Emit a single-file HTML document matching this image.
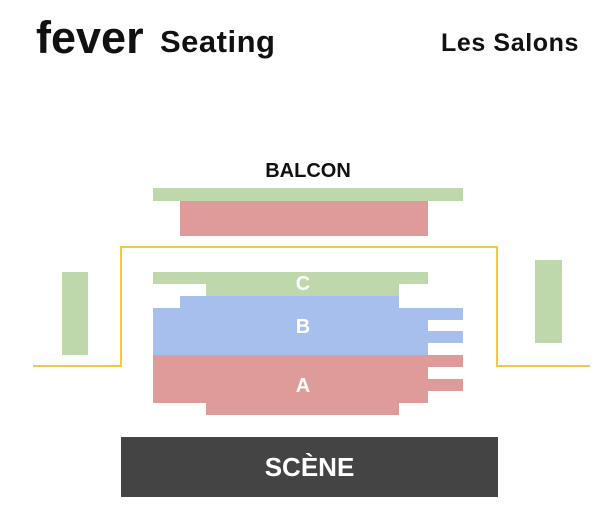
<!DOCTYPE html>
<html><head><style>
body{margin:0;width:614px;height:526px;background:#fff;position:relative;overflow:hidden;font-family:"Liberation Sans",sans-serif}
.r{position:absolute}
.g{background:#bfd8ab}.rd{background:#df9b99}.b{background:#a7bfec}
.t{position:absolute;font-weight:bold;text-align:center}
</style></head><body>
<div class="r" style="left:36px;top:12px;font-size:45px;font-weight:bold;letter-spacing:0px;color:#111">fever</div>
<div class="r" style="left:160px;top:24px;font-size:31px;font-weight:bold;color:#111;letter-spacing:0.5px">Seating</div>
<div class="r" style="left:441px;top:29px;font-size:25px;font-weight:bold;color:#111;letter-spacing:0.6px;white-space:nowrap">Les Salons</div>

<div class="t" style="left:200px;width:216px;top:160px;font-size:20px;color:#111">BALCON</div>
<div class="r g" style="left:153px;top:188px;width:310px;height:13px"></div>
<div class="r rd" style="left:180px;top:201px;width:248px;height:35px"></div>

<svg class="r" style="left:0;top:0" width="614" height="526"><polyline points="33,366 121,366 121,247 497,247 497,366 590,366" fill="none" stroke="#f5c842" stroke-width="2"/></svg>

<div class="r g" style="left:62px;top:272px;width:26px;height:83px"></div>
<div class="r g" style="left:535px;top:260px;width:27px;height:83px"></div>

<div class="r g" style="left:153px;top:272px;width:275px;height:12px"></div>
<div class="r g" style="left:206px;top:284px;width:193px;height:12px"></div>
<div class="r b" style="left:180px;top:296px;width:219px;height:12px"></div>
<div class="r b" style="left:153px;top:308px;width:275px;height:47px"></div>
<div class="r b" style="left:428px;top:308px;width:35px;height:12px"></div>
<div class="r b" style="left:428px;top:331px;width:35px;height:12px"></div>
<div class="r rd" style="left:153px;top:355px;width:275px;height:48px"></div>
<div class="r rd" style="left:428px;top:355px;width:35px;height:12px"></div>
<div class="r rd" style="left:428px;top:379px;width:35px;height:12px"></div>
<div class="r rd" style="left:206px;top:403px;width:193px;height:12px"></div>
<div class="t" style="left:280px;width:46px;top:273px;font-size:20px;color:#fff">C</div>
<div class="t" style="left:280px;width:46px;top:316px;font-size:20px;color:#fff">B</div>
<div class="t" style="left:280px;width:46px;top:375px;font-size:20px;color:#fff">A</div>

<div class="r" style="left:121px;top:437px;width:377px;height:60px;background:#444"></div>
<div class="t" style="left:121px;width:377px;top:452px;font-size:26px;color:#fff">SCÈNE</div>
</body></html>
